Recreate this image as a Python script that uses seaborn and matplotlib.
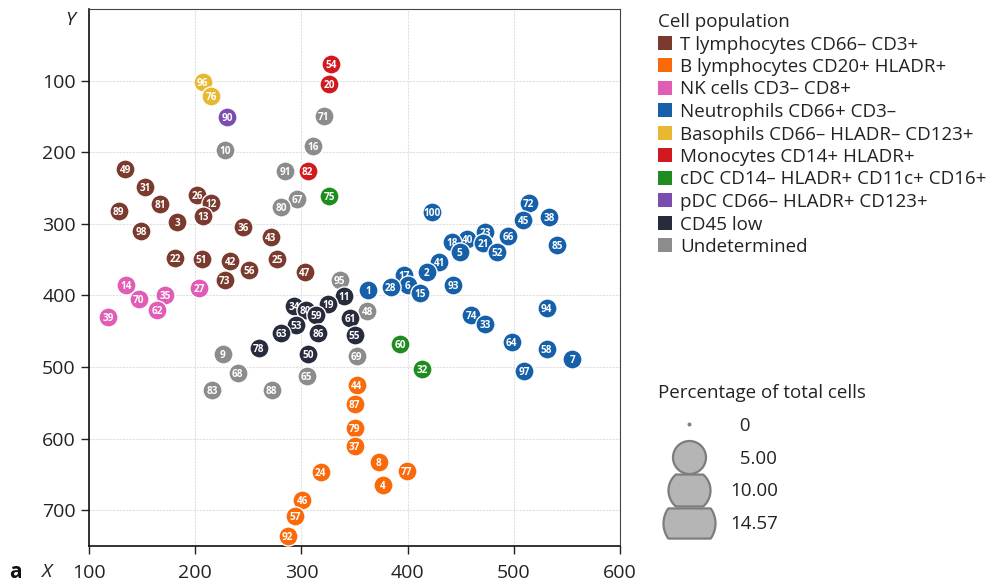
import numpy as np
import pandas as pd
import matplotlib
matplotlib.use("Agg")
import matplotlib.pyplot as plt
import seaborn as sns
from matplotlib.lines import Line2D
from matplotlib.path import Path

# ---------------- data ----------------
populations = [
    "T lymphocytes CD66\u2013 CD3+",
    "B lymphocytes CD20+ HLADR+",
    "NK cells CD3\u2013 CD8+",
    "Neutrophils CD66+ CD3\u2013",
    "Basophils CD66\u2013 HLADR\u2013 CD123+",
    "Monocytes CD14+ HLADR+",
    "cDC CD14\u2013 HLADR+ CD11c+ CD16+",
    "pDC CD66\u2013 HLADR+ CD123+",
    "CD45 low",
    "Undetermined",
]
palette = ["#7B3A2E", "#FA6A0A", "#E05CB5", "#1560A8", "#E8B832",
           "#D11A1F", "#1F8C1F", "#7B4DB0", "#272B3B", "#8C8C8C"]

t_ids = [49, 31, 26, 12, 81, 89, 13, 3, 98, 36, 43, 22, 51, 42, 56, 25, 73, 47]
t_x = [134, 153, 202, 215, 167, 128, 207, 183, 149, 245, 271, 181, 206, 233, 251, 277, 228, 303]
t_y = [224, 248, 260, 271, 273, 282, 289, 297, 310, 305, 319, 348, 349, 352, 364, 349, 378, 368]

b_ids = [44, 87, 79, 37, 8, 24, 4, 77, 46, 57, 92]
b_x = [352, 350, 350, 350, 373, 318, 377, 399, 301, 294, 287]
b_y = [525, 551, 585, 611, 633, 647, 665, 645, 686, 708, 736]

nk_ids = [14, 70, 35, 62, 39, 27]
nk_x = [135, 147, 172, 164, 118, 204]
nk_y = [386, 405, 400, 420, 430, 389]

neu_ids = [1, 28, 17, 6, 15, 2, 41, 93, 18, 40, 5, 23, 21, 52, 66, 45, 72, 38,
           85, 100, 94, 74, 33, 64, 58, 7, 97]
neu_x = [363, 384, 397, 400, 412, 418, 430, 443, 442, 456, 449, 473, 471, 484, 495,
         509, 514, 533, 541, 423, 531, 460, 473, 498, 531, 555, 510]
neu_y = [393, 388, 372, 386, 397, 368, 353, 386, 325, 321, 339, 312, 327, 339, 317,
         295, 271, 291, 329, 284, 418, 428, 440, 465, 475, 489, 506]

baso_ids = [96, 76]
baso_x = [207, 215]
baso_y = [102, 122]

mono_ids = [54, 20, 82]
mono_x = [328, 326, 306]
mono_y = [77, 105, 226]

cdc_ids = [75, 60, 32]
cdc_x = [326, 393, 414]
cdc_y = [261, 468, 503]

pdc_ids = [90]
pdc_x = [230]
pdc_y = [151]

low_ids = [34, 80, 59, 19, 11, 53, 63, 86, 78, 50, 61, 55]
low_x = [293, 304, 314, 325, 340, 295, 281, 316, 260, 306, 346, 350]
low_y = [415, 420, 428, 412, 401, 441, 452, 453, 473, 482, 432, 455]

und_ids = [10, 71, 16, 91, 67, 80, 95, 48, 69, 9, 68, 83, 88, 65]
und_x = [228, 321, 311, 285, 296, 281, 336, 362, 352, 226, 240, 216, 272, 305]
und_y = [197, 150, 192, 226, 265, 276, 378, 422, 485, 482, 509, 532, 532, 513]

size_values = [0, 5.00, 10.00, 14.57]
size_labels = ["  0", "  5.00", "10.00", "14.57"]

x_ticks = [100, 200, 300, 400, 500, 600]
y_ticks = [100, 200, 300, 400, 500, 600, 700]

groups = [(t_ids, t_x, t_y), (b_ids, b_x, b_y), (nk_ids, nk_x, nk_y),
          (neu_ids, neu_x, neu_y), (baso_ids, baso_x, baso_y),
          (mono_ids, mono_x, mono_y), (cdc_ids, cdc_x, cdc_y),
          (pdc_ids, pdc_x, pdc_y), (low_ids, low_x, low_y),
          (und_ids, und_x, und_y)]

rows = []
for pop, (ids, xs, ys) in zip(populations, groups):
    for i, x, y in zip(ids, xs, ys):
        rows.append({"id": i, "x": x, "y": y, "population": pop})
df = pd.DataFrame(rows).sort_values("y", kind="stable").reset_index(drop=True)
color_map = dict(zip(populations, palette))

# ---------------- figure ----------------
sns.set_theme(style="white")
plt.rcParams["font.family"] = ["Open Sans", "DejaVu Sans"]

fig = plt.figure(figsize=(10.08, 5.88), dpi=100)
ax = fig.add_axes([89 / 1008, 1 - 546 / 588, 531 / 1008, (546 - 9) / 588])

for k, r in df.iterrows():
    z = 3 + k * 0.01
    sns.scatterplot(x=[r.x], y=[r.y], color=color_map[r.population], s=190,
                    edgecolor="white", linewidth=1.0, ax=ax, legend=False,
                    zorder=z)
    ax.text(r.x, r.y, str(r.id), color="white", fontsize=7.2,
            fontweight="bold", ha="center", va="center_baseline",
            zorder=z + 0.005)

ax.set_xlim(100, 600)
ax.set_ylim(750, 0)
ax.set_xticks(x_ticks)
ax.set_yticks(y_ticks)
ax.set_xlabel("")
ax.set_ylabel("")
ax.tick_params(axis="both", labelsize=14, length=6, width=1.0,
               direction="out", colors="#222222", left=True, bottom=True)
ax.tick_params(axis="x", pad=7)
ax.grid(True, color="#e0e0e0", linestyle=(0, (2, 1)), linewidth=0.8)
ax.set_axisbelow(True)
for s in ["left", "bottom"]:
    ax.spines[s].set_color("#111111")
    ax.spines[s].set_linewidth(1.2)
for s in ["top", "right"]:
    ax.spines[s].set_color("#444444")
    ax.spines[s].set_linewidth(0.8)

fig.text(70 / 1008, 1 - 20 / 588, "Y", fontsize=14, style="italic",
         ha="center", va="center", color="#222222")
fig.text(46 / 1008, 1 - 572 / 588, "X", fontsize=14, style="italic",
         ha="center", va="center", color="#222222")
fig.text(15 / 1008, 1 - 572 / 588, "a", fontsize=15, fontweight="bold",
         ha="center", va="center", color="#111111")

FS = 13.5
# population legend
handles = [Line2D([], [], marker="s", linestyle="", markersize=10,
                  markerfacecolor=c, markeredgewidth=0) for c in palette]
leg1 = fig.legend(handles, populations, title="Cell population",
                  loc="upper left", bbox_to_anchor=(658 / 1008, 1 - 13 / 588),
                  frameon=False, fontsize=FS, title_fontsize=FS,
                  handlelength=0.75, handletextpad=0.43, labelspacing=0.24,
                  borderpad=0, borderaxespad=0, alignment="left")
for t in leg1.get_texts():
    t.set_color("#222222")
leg1.get_title().set_color("#222222")


# size legend
def clipped_circle(frac):
    t = np.linspace(0, 2 * np.pi, 200)
    v = np.column_stack([np.cos(t), np.clip(np.sin(t), -frac, frac)])
    return Path(v, closed=True)


marker_px = [4, 33, 42, 52]
clip_frac = [1.0, 1.0, 0.76, 0.58]
size_handles = []
for v, px, cf in zip(size_values, marker_px, clip_frac):
    mk = "o" if cf >= 1.0 else clipped_circle(cf)
    size_handles.append(Line2D([], [], marker=mk, linestyle="",
                               markersize=px * 0.72,
                               markerfacecolor="#b5b5b5" if v > 0 else "#808080",
                               markeredgecolor="#7d7d7d",
                               markeredgewidth=1.6 if v > 0 else 0))
leg2 = fig.legend(size_handles, size_labels, title="Percentage of total cells",
                  loc="upper left", bbox_to_anchor=(658 / 1008, 1 - 384 / 588),
                  frameon=False, fontsize=FS, title_fontsize=FS,
                  handlelength=3.3, handletextpad=0.53, labelspacing=0.79,
                  borderpad=0, borderaxespad=0, alignment="left")
for t in leg2.get_texts():
    t.set_color("#222222")
leg2.get_title().set_color("#222222")

fig.savefig("out.png", dpi=100)
